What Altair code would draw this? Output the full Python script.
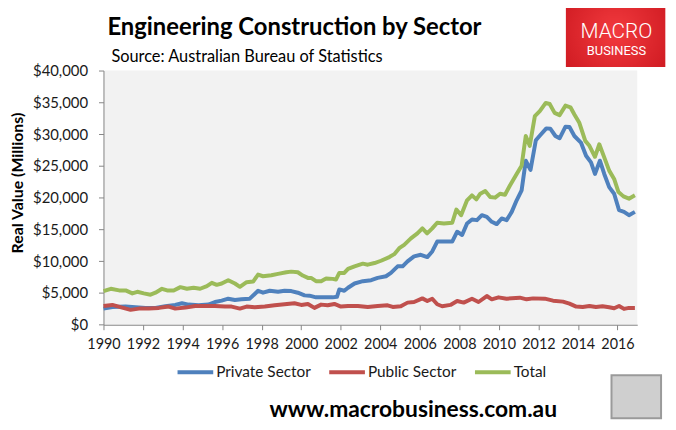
import altair as alt
import pandas as pd

# ---- data ----
private_year = [1990.00,1990.45,1991.12,1991.62,1992.13,1992.63,1993.13,1993.63,1993.97,1994.30,1994.81,1995.31,1995.64,1995.98,1996.31,1996.65,1996.98,1997.40,1997.82,1998.07,1998.41,1998.83,1999.16,1999.50,1999.83,2000.17,2000.42,2000.75,2001.17,2001.59,2001.81,2001.93,2002.18,2002.37,2002.70,2003.12,2003.54,2003.87,2004.29,2004.54,2004.88,2005.13,2005.38,2005.71,2006.05,2006.38,2006.63,2006.88,2007.22,2007.64,2007.89,2008.14,2008.39,2008.64,2008.89,2009.14,2009.39,2009.64,2009.89,2010.14,2010.39,2010.65,2010.90,2011.15,2011.36,2011.60,2011.87,2012.10,2012.40,2012.60,2012.86,2013.07,2013.37,2013.57,2013.82,2014.15,2014.41,2014.66,2014.86,2015.11,2015.33,2015.58,2015.83,2016.08,2016.33,2016.58,2016.88]
private_value = [2540,2800,2860,2750,2650,2650,2910,3120,3380,3170,3060,3170,3580,3790,4100,3890,4000,4100,5350,5040,5350,5190,5350,5300,5040,4620,4570,4310,4310,4310,4400,5560,5350,5820,6490,6850,7010,7370,7630,8150,9190,9190,9970,10750,11010,10650,11530,13090,13090,13090,14640,14120,15940,16570,16460,17240,16980,16200,15840,16720,16460,17760,19580,21140,25810,24360,29030,29860,30900,30850,29700,29340,31160,31110,29700,28670,26590,25550,23730,25810,23730,21650,20620,18020,17760,17240,17760]

public_year = [1990.00,1990.45,1990.95,1991.37,1991.79,1992.29,1992.80,1993.30,1993.63,1994.14,1994.64,1995.14,1995.64,1996.15,1996.48,1996.90,1997.24,1997.65,1998.16,1998.66,1999.16,1999.66,2000.00,2000.34,2000.67,2001.01,2001.34,2001.68,2002.01,2002.37,2002.87,2003.37,2003.87,2004.37,2004.63,2005.04,2005.38,2005.71,2006.13,2006.38,2006.63,2006.88,2007.13,2007.55,2007.89,2008.22,2008.64,2008.97,2009.39,2009.64,2009.98,2010.39,2011.06,2011.40,2011.73,2012.32,2012.74,2013.24,2013.57,2013.91,2014.24,2014.58,2014.91,2015.24,2015.58,2015.83,2016.08,2016.33,2016.58,2016.88]
public_value = [2960,3120,2700,2340,2540,2540,2650,2860,2540,2700,2960,2960,2960,2860,2860,2540,2860,2750,2860,3060,3220,3380,3120,3270,2650,3170,3060,3270,2860,2960,2960,2800,2960,3060,2800,2910,3480,3580,4150,3740,4100,3220,2910,3120,3740,3480,4100,3580,4520,4000,4310,4100,4260,4000,4150,4100,3790,3640,3320,2860,2800,2960,2800,2910,2750,2600,2960,2490,2650,2650]

total_year = [1990.00,1990.37,1990.79,1991.12,1991.46,1991.71,1992.04,1992.38,1992.63,1992.96,1993.22,1993.55,1993.89,1994.22,1994.56,1994.89,1995.23,1995.48,1995.73,1995.98,1996.31,1996.65,1996.90,1997.24,1997.57,1997.82,1998.07,1998.49,1998.83,1999.25,1999.50,1999.83,2000.08,2000.34,2000.50,2000.75,2001.01,2001.26,2001.59,2001.76,2001.93,2002.18,2002.37,2002.70,2003.12,2003.37,2003.71,2004.04,2004.46,2004.71,2004.96,2005.21,2005.55,2005.88,2006.13,2006.37,2006.63,2006.88,2007.22,2007.64,2007.85,2008.09,2008.39,2008.64,2008.86,2009.06,2009.31,2009.56,2009.81,2010.06,2010.31,2010.56,2010.90,2011.15,2011.36,2011.56,2011.82,2012.07,2012.37,2012.57,2012.82,2013.07,2013.37,2013.62,2013.82,2014.07,2014.37,2014.58,2014.86,2015.08,2015.33,2015.58,2015.83,2016.05,2016.30,2016.58,2016.88]
total_value = [5300,5660,5400,5400,4930,5190,4930,4730,5040,5660,5400,5400,5920,5660,5820,5660,6080,6600,6280,6490,7010,6490,5970,6700,6800,7890,7630,7790,8000,8260,8360,8260,7740,7370,7370,6850,6850,7270,7220,7110,8150,8150,8780,9190,9610,9450,9710,10070,10650,11110,12050,12570,13600,14380,15160,14380,15160,16050,15940,16050,18120,17240,19580,20360,19730,20620,21030,20100,20000,20620,20460,21910,23730,25030,29700,28150,32820,33600,34900,34740,33340,32980,34480,34220,33080,31780,28930,28150,26430,28400,26330,24250,22950,20880,20200,19840,20360]

series_names = ["Private Sector", "Public Sector", "Total"]
series_colors = ["#4F81BD", "#C0504D", "#9BBB59"]
x_ticks = list(range(1990, 2017, 2))
y_ticks = list(range(0, 40001, 5000))

title_text = "Engineering Construction by Sector"
subtitle_text = "Source: Australian Bureau of Statistics"
website_text = "www.macrobusiness.com.au"
logo_top = "MACRO"
logo_bottom = "BUSINESS"

# ---- long table ----
rows = []
for name, years, vals in [
    (series_names[0], private_year, private_value),
    (series_names[1], public_year, public_value),
    (series_names[2], total_year, total_value),
]:
    for yr, v in zip(years, vals):
        rows.append({"Year": yr, "Value": v, "Series": name})
df = pd.DataFrame(rows)

W, H = 538.4, 256.4
FONT = "Lato"

lines = alt.Chart(df).mark_line(strokeWidth=4, strokeJoin="round").encode(
    x=alt.X(
        "Year:Q",
        scale=alt.Scale(domain=[1990, 2017], nice=False, zero=False),
        axis=alt.Axis(
            values=x_ticks, format="d", grid=False, tickSize=5, labelPadding=8,
            labelFontSize=14.5, labelFont=FONT, labelColor="#1a1a1a",
            labelOverlap=False, labelFlush=False,
            domainColor="#868686", tickColor="#868686", title=None,
        ),
    ),
    y=alt.Y(
        "Value:Q",
        scale=alt.Scale(domain=[0, 40000], nice=False),
        axis=alt.Axis(
            values=y_ticks, format="$,.0f", grid=False, tickSize=5, labelPadding=11,
            labelFontSize=15, labelFont=FONT, labelColor="#1a1a1a",
            labelOverlap=False, labelFlush=False,
            domainColor="#868686", tickColor="#868686",
            title="Real Value (Millions)", titleFont=FONT, titleFontSize=16,
            titleFontWeight="bold", titleColor="#000000", titleX=-87, titleY=113,
            titleAngle=270, titleAlign="center", titleBaseline="middle",
        ),
    ),
    color=alt.Color(
        "Series:N",
        sort=series_names,
        scale=alt.Scale(domain=series_names, range=series_colors),
        legend=alt.Legend(
            orient="none", legendX=72.7, legendY=284, direction="horizontal",
            title=None, symbolType="stroke", symbolSize=1296, symbolStrokeWidth=4,
            labelFont=FONT, labelFontSize=15.5, labelColor="#1a1a1a", labelOffset=1,
            columnPadding=10, padding=0,
        ),
    ),
)

title = alt.Chart(pd.DataFrame({"t": [title_text]})).mark_text(
    align="left", baseline="alphabetic", font=FONT, fontSize=24, fontWeight="bold", color="#000000"
).encode(text="t:N", x=alt.value(4), y=alt.value(-36))

subtitle = alt.Chart(pd.DataFrame({"t": [subtitle_text]})).mark_text(
    align="left", baseline="alphabetic", font=FONT, fontSize=16.5, color="#000000"
).encode(text="t:N", x=alt.value(8), y=alt.value(-8.6))

website = alt.Chart(pd.DataFrame({"t": [website_text]})).mark_text(
    align="center", baseline="alphabetic", font=FONT, fontSize=23, fontWeight="bold", color="#000000"
).encode(text="t:N", x=alt.value(312.4), y=alt.value(349.3))

logo_fill = alt.RadialGradient(
    gradient="radial", x1=0.5, y1=0.45, x2=0.5, y2=0.45, r1=0, r2=0.75,
    stops=[alt.GradientStop(color="#F23A3E", offset=0), alt.GradientStop(color="#C8141C", offset=1)],
)
logo_box = alt.Chart(pd.DataFrame({"a": [0]})).mark_rect(color=logo_fill).encode(
    x=alt.value(466.4), x2=alt.value(566.7), y=alt.value(-63.3), y2=alt.value(-3.6)
)
logo_t1 = alt.Chart(pd.DataFrame({"t": [logo_top]})).mark_text(
    align="center", baseline="alphabetic", font="Roboto", fontSize=21, fontWeight=300, color="#FFFFFF"
).encode(text="t:N", x=alt.value(517.4), y=alt.value(-32.5))
logo_t2 = alt.Chart(pd.DataFrame({"t": [logo_bottom]})).mark_text(
    align="center", baseline="alphabetic", font="Roboto", fontSize=13, color="#FFFFFF"
).encode(text="t:N", x=alt.value(517.4), y=alt.value(-16))

wolf_box = alt.Chart(pd.DataFrame({"a": [0]})).mark_rect(
    fill="#CFCFCF", stroke="#9A9A9A", strokeWidth=2
).encode(x=alt.value(512.4), x2=alt.value(562.4), y=alt.value(307.4), y2=alt.value(350.7))

chart = alt.layer(
    lines, title, subtitle, website, logo_box, logo_t1, logo_t2, wolf_box
).properties(
    width=W, height=H,
    autosize=alt.AutoSizeParams(type="none"),
    padding={"left": 96.3, "top": 61.3, "right": 31, "bottom": 96},
    background="#FFFFFF",
).configure_view(fill="#F2F2F2", strokeWidth=0)

chart.save("out.html", embed_options={"renderer": "svg", "actions": False})
